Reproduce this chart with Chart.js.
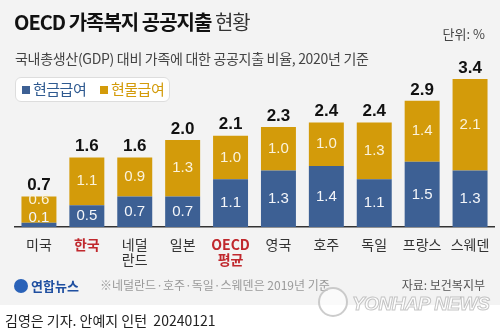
<!DOCTYPE html>
<html>
<head>
<meta charset="utf-8">
<script src="https://cdn.jsdelivr.net/npm/chart.js@4.4.1/dist/chart.umd.min.js"></script>
<style>
  html, body { margin: 0; padding: 0; }
  body { width: 500px; height: 335px; position: relative; overflow: hidden; background: #fff;
         font-family: "Noto Sans CJK KR", "Noto Sans", sans-serif; }
  #panel { position: absolute; left: 0; top: 0; width: 500px; height: 305px; background: #f3f3f3; }
  #chartBox { position: absolute; left: 0; top: 0; width: 500px; height: 335px; }
  .t { position: absolute; white-space: nowrap; }
  #title { left: 14px; top: 7px; font-size: 20px; font-weight: bold; color: #111; letter-spacing: -1px; }
  #title span { font-weight: normal; color: #333; }
  #unit { right: 15px; top: 24px; font-size: 13px; color: #444; }
  #sub { left: 15px; top: 48px; font-size: 14px; color: #444; letter-spacing: -0.3px; }
  #legend { left: 15px; top: 77px; width: 155px; height: 25px; background: #fff; border: 1px solid #ddd;
            border-radius: 6px; box-sizing: border-box; font-size: 15px; letter-spacing: -0.5px; }
  #legend .sq { display: inline-block; width: 8px; height: 8px; margin-right: 3px; vertical-align: 1px; }
  #foot1 { left: 14px; top: 276px; font-size: 13px; font-weight: bold; color: #1f4fa0; }
  #foot1 i { display: inline-block; width: 14px; height: 14px; border-radius: 50%; background: #2a62b8;
             vertical-align: -2px; margin-right: 3px; }
  #note { left: 100px; top: 276px; font-size: 12px; color: #999; }
  #src { right: 15px; top: 276px; font-size: 12px; color: #555; }
  #wmc { left: 318px; top: 287px; width: 26px; height: 26px; border-radius: 50%; border: 2px solid rgba(170,170,170,0.6);
         background: rgba(255,255,255,0.6); }
  #wm { left: 352px; top: 293px; font-size: 19px; font-weight: bold; font-style: italic; color: rgba(255,255,255,0.8);
        -webkit-text-stroke: 1px rgba(160,160,160,0.6); font-family: "Liberation Sans", sans-serif; letter-spacing: -0.5px; }
  #credit { left: 5px; top: 310px; font-size: 14px; color: #222; }
</style>
</head>
<body>
<div id="panel"></div>
<div id="chartBox"><canvas id="grafico"></canvas></div>
<div class="t" id="title">OECD 가족복지 공공지출 <span>현황</span></div>
<div class="t" id="unit">단위: %</div>
<div class="t" id="sub">국내총생산(GDP) 대비 가족에 대한 공공지출 비율, 2020년 기준</div>
<div class="t" id="legend"><div style="position:absolute;left:6px;top:0px;color:#2f5a90"><span class="sq" style="background:#3d6094"></span>현금급여</div><div style="position:absolute;left:84px;top:0px;color:#d39b0a"><span class="sq" style="background:#d39b0a"></span>현물급여</div></div>
<div class="t" id="foot1"><i></i>연합뉴스</div>
<div class="t" id="note">※네덜란드·호주·독일·스웨덴은 2019년 기준</div>
<div class="t" id="wmc"></div>
<div class="t" id="wm">YONHAP NEWS</div>
<div class="t" id="src">자료: 보건복지부</div>
<div class="t" id="credit">김영은 기자. 안예지 인턴&nbsp; 20240121</div>
<script>
// dados do gráfico
const paises = [['미국'], ['한국'], ['네덜', '란드'], ['일본'], ['OECD', '평균'], ['영국'], ['호주'], ['독일'], ['프랑스'], ['스웨덴']];
const destaque = [false, true, false, false, true, false, false, false, false, false];
const cash = [0.1, 0.5, 0.7, 0.7, 1.1, 1.3, 1.4, 1.1, 1.5, 1.3];
const inKind = [0.6, 1.1, 0.9, 1.3, 1.0, 1.0, 1.0, 1.3, 1.4, 2.1];
const totais = ['0.7', '1.6', '1.6', '2.0', '2.1', '2.3', '2.4', '2.4', '2.9', '3.4'];

// rótulos dentro e acima das barras
const rotulos = {
  id: 'rotulos',
  afterDatasetsDraw(chart) {
    const ctx = chart.ctx;
    ctx.save();
    ctx.textAlign = 'center';
    ctx.textBaseline = 'middle';
    const m0 = chart.getDatasetMeta(0), m1 = chart.getDatasetMeta(1);
    m0.data.forEach((bar0, i) => {
      const bar1 = m1.data[i];
      let y0 = (bar0.y + bar0.base) / 2;
      if (bar0.base - bar0.y < 20) y0 = bar0.base - 9;
      let y1 = (bar1.y + bar1.base) / 2;
      if (y0 - y1 < 18) y1 = y0 - 18;
      ctx.font = '15px "Liberation Sans", sans-serif';
      ctx.fillStyle = '#f4f6fa';
      ctx.fillText(cash[i].toFixed(1), bar0.x, y0);
      ctx.fillStyle = '#fbf3dc';
      ctx.fillText(inKind[i].toFixed(1), bar1.x, y1);
      ctx.font = 'bold 17px "Liberation Sans", sans-serif';
      ctx.fillStyle = '#111';
      ctx.fillText(totais[i], bar1.x, bar1.y - 11);
    });
    ctx.restore();
  }
};

const grafico = new Chart(document.getElementById('grafico'), {
  type: 'bar',
  data: {
    labels: paises,
    datasets: [
      { label: '현금급여', data: cash, backgroundColor: '#3d6094' },
      { label: '현물급여', data: inKind, backgroundColor: '#d39b0a' }
    ]
  },
  options: {
    responsive: true,
    maintainAspectRatio: false,
    animation: false,
    layout: { padding: { left: 15, right: 6, top: 53, bottom: 48 } },
    plugins: { legend: { display: false }, tooltip: { enabled: false } },
    datasets: { bar: { barPercentage: 0.73, categoryPercentage: 1.0 } },
    scales: {
      x: {
        stacked: true,
        grid: { display: false },
        border: { display: true, color: '#333', width: 1.5 },
        afterFit(scale) { scale.height = 60; },
        ticks: {
          padding: 2,
          autoSkip: false,
          maxRotation: 0,
          color: (c) => destaque[c.index] ? '#c0282d' : '#333',
          font: (c) => ({ family: '"Noto Sans CJK KR", sans-serif', size: 14, lineHeight: 1.1,
                          weight: destaque[c.index] ? 'bold' : 'normal' })
        }
      },
      y: { stacked: true, display: false, min: 0, max: 4.0 }
    }
  },
  plugins: [rotulos]
});
</script>
</body>
</html>
